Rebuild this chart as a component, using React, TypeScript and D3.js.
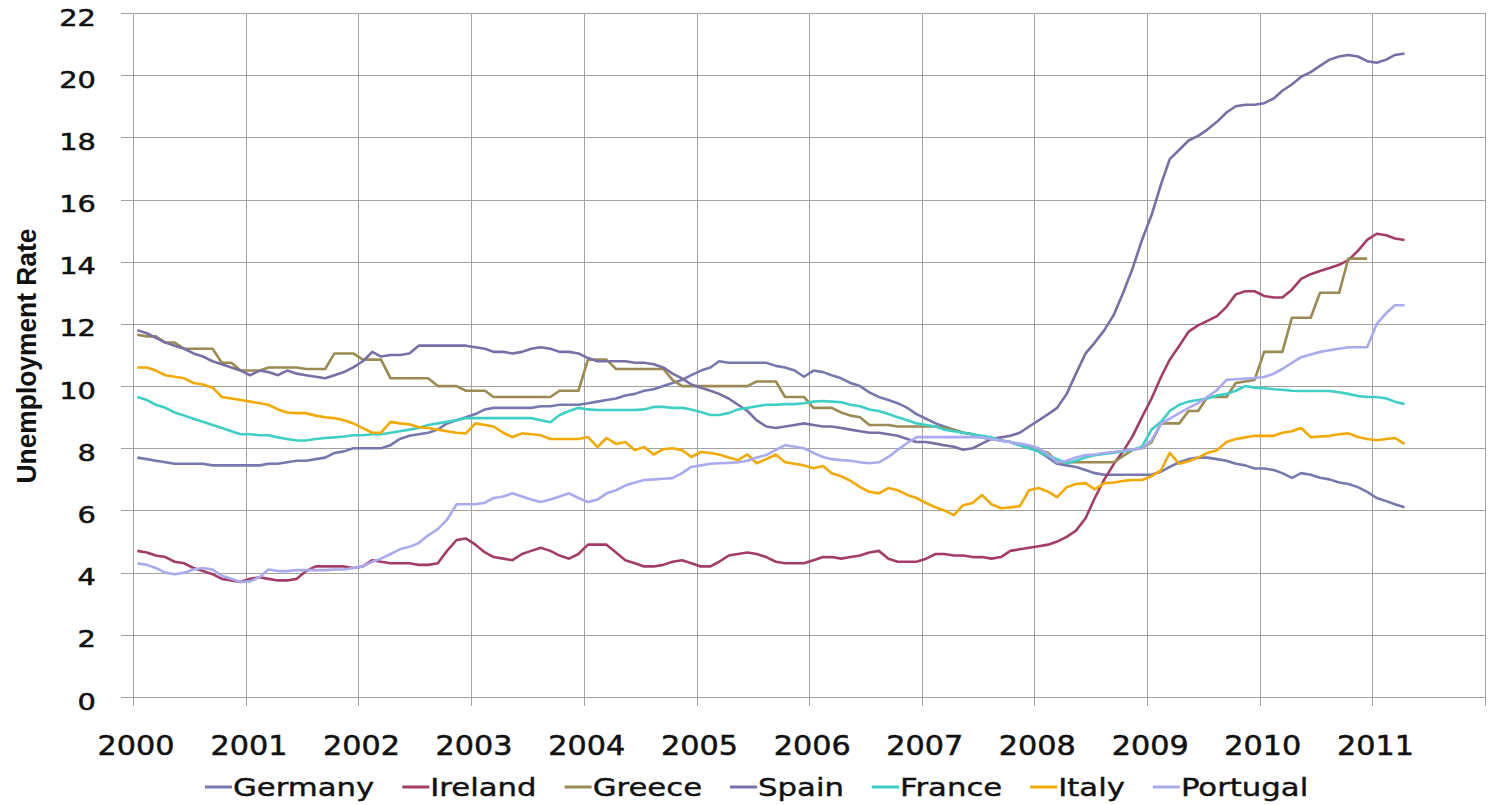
import * as d3 from "d3";
import { useEffect, useRef } from "react";

const W = 1491;
const H = 805;

// monthly unemployment rate, Jan 2000 onwards
const germany = [
  7.7, 7.65, 7.6, 7.55, 7.5, 7.5, 7.5, 7.5, 7.45, 7.45, 7.45, 7.45,
  7.45, 7.45, 7.5, 7.5, 7.55, 7.6, 7.6, 7.65, 7.7, 7.85, 7.9, 8.0,
  8.0, 8.0, 8.0, 8.1, 8.3, 8.4, 8.45, 8.5, 8.6, 8.8, 8.9, 9.0,
  9.1, 9.25, 9.3, 9.3, 9.3, 9.3, 9.3, 9.35, 9.35, 9.4, 9.4, 9.4,
  9.45, 9.5, 9.55, 9.6, 9.7, 9.75, 9.85, 9.9, 10.0, 10.1, 10.2, 10.35,
  10.5, 10.6, 10.8, 10.75, 10.75, 10.75, 10.75, 10.75, 10.65, 10.6, 10.5, 10.3,
  10.5, 10.45, 10.35, 10.25, 10.1, 10.0, 9.8, 9.65, 9.55, 9.45, 9.3, 9.1,
  8.95, 8.8, 8.7, 8.6, 8.5, 8.45, 8.35, 8.3, 8.25, 8.2, 8.1, 8.0,
  7.9, 7.7, 7.5, 7.45, 7.4, 7.3, 7.2, 7.15, 7.15, 7.15, 7.15, 7.15,
  7.15, 7.25, 7.4, 7.55, 7.65, 7.7, 7.7, 7.65, 7.6, 7.5, 7.45, 7.35,
  7.35, 7.3, 7.2, 7.05, 7.2, 7.15, 7.05, 7.0, 6.9, 6.85, 6.75, 6.6,
  6.4, 6.3, 6.2, 6.1,
];
const ireland = [
  4.7, 4.65, 4.55, 4.5, 4.35, 4.3, 4.15, 4.05, 3.95, 3.8, 3.75, 3.7,
  3.8, 3.85, 3.8, 3.75, 3.75, 3.8, 4.05, 4.2, 4.2, 4.2, 4.2, 4.15,
  4.2, 4.4, 4.35, 4.3, 4.3, 4.3, 4.25, 4.25, 4.3, 4.7, 5.05, 5.1,
  4.9, 4.65, 4.5, 4.45, 4.4, 4.6, 4.7, 4.8, 4.7, 4.55, 4.45, 4.6,
  4.9, 4.9, 4.9, 4.65, 4.4, 4.3, 4.2, 4.2, 4.25, 4.35, 4.4, 4.3,
  4.2, 4.2, 4.35, 4.55, 4.6, 4.65, 4.6, 4.5, 4.35, 4.3, 4.3, 4.3,
  4.4, 4.5, 4.5, 4.45, 4.5, 4.55, 4.65, 4.7, 4.45, 4.35, 4.35, 4.35,
  4.45, 4.6, 4.6, 4.55, 4.55, 4.5, 4.5, 4.45, 4.5, 4.7, 4.75, 4.8,
  4.85, 4.9, 5.0, 5.15, 5.35, 5.75, 6.4, 7.0, 7.5, 7.9, 8.4, 9.0,
  9.6, 10.3, 10.85, 11.3, 11.75, 11.95, 12.1, 12.25, 12.55, 12.95, 13.05, 13.05,
  12.9, 12.85, 12.85, 13.1, 13.45, 13.6, 13.7, 13.8, 13.9, 14.05, 14.35, 14.7,
  14.9, 14.85, 14.75, 14.7,
];
const greece = [
  11.65, 11.6, 11.6, 11.4, 11.4, 11.2, 11.2, 11.2, 11.2, 10.75, 10.75, 10.5,
  10.5, 10.5, 10.6, 10.6, 10.6, 10.6, 10.55, 10.55, 10.55, 11.05, 11.05, 11.05,
  10.85, 10.85, 10.85, 10.25, 10.25, 10.25, 10.25, 10.25, 10.0, 10.0, 10.0, 9.85,
  9.85, 9.85, 9.65, 9.65, 9.65, 9.65, 9.65, 9.65, 9.65, 9.85, 9.85, 9.85,
  10.85, 10.85, 10.85, 10.55, 10.55, 10.55, 10.55, 10.55, 10.55, 10.2, 10.0, 10.0,
  10.0, 10.0, 10.0, 10.0, 10.0, 10.0, 10.15, 10.15, 10.15, 9.65, 9.65, 9.65,
  9.3, 9.3, 9.3, 9.15, 9.05, 9.0, 8.75, 8.75, 8.75, 8.7, 8.7, 8.7,
  8.7, 8.7, 8.65, 8.6, 8.5, 8.45, 8.35, 8.3, 8.25, 8.2, 8.1, 8.05,
  7.95, 7.85, 7.55, 7.55, 7.55, 7.55, 7.55, 7.55, 7.55, 7.75, 7.95, 8.0,
  8.2, 8.8, 8.8, 8.8, 9.2, 9.2, 9.65, 9.65, 9.65, 10.1, 10.15, 10.2,
  11.1, 11.1, 11.1, 12.2, 12.2, 12.2, 13.0, 13.0, 13.0, 14.1, 14.1, 14.1,
];
const spain = [
  11.8, 11.7, 11.55, 11.4, 11.3, 11.2, 11.05, 10.95, 10.8, 10.7, 10.6, 10.5,
  10.35, 10.5, 10.45, 10.35, 10.5, 10.4, 10.35, 10.3, 10.25, 10.35, 10.45, 10.6,
  10.8, 11.1, 10.95, 11.0, 11.0, 11.05, 11.3, 11.3, 11.3, 11.3, 11.3, 11.3,
  11.25, 11.2, 11.1, 11.1, 11.05, 11.1, 11.2, 11.25, 11.2, 11.1, 11.1, 11.05,
  10.9, 10.8, 10.8, 10.8, 10.8, 10.75, 10.75, 10.7, 10.6, 10.4, 10.25, 10.05,
  9.95, 9.85, 9.75, 9.6, 9.4, 9.2, 8.9, 8.7, 8.65, 8.7, 8.75, 8.8,
  8.75, 8.7, 8.7, 8.65, 8.6, 8.55, 8.5, 8.5, 8.45, 8.4, 8.3, 8.2,
  8.2, 8.15, 8.1, 8.05, 7.95, 8.0, 8.15, 8.3, 8.35, 8.4, 8.5, 8.7,
  8.9, 9.1, 9.3, 9.75, 10.4, 11.05, 11.4, 11.8, 12.3, 13.0, 13.8, 14.7,
  15.5, 16.5, 17.3, 17.6, 17.9, 18.05, 18.25, 18.5, 18.8, 19.0, 19.05, 19.05,
  19.1, 19.25, 19.5, 19.7, 19.95, 20.1, 20.3, 20.5, 20.6, 20.65, 20.6, 20.45,
  20.4, 20.5, 20.65, 20.7,
];
const france = [
  9.65, 9.55, 9.4, 9.3, 9.15, 9.05, 8.95, 8.85, 8.75, 8.65, 8.55, 8.45,
  8.45, 8.42, 8.42, 8.35, 8.3, 8.25, 8.25, 8.3, 8.33, 8.35, 8.38, 8.42,
  8.42, 8.45, 8.45, 8.5, 8.55, 8.6, 8.65, 8.75, 8.8, 8.85, 8.9, 8.97,
  8.97, 8.97, 8.97, 8.97, 8.97, 8.97, 8.97, 8.9, 8.84, 9.07, 9.2, 9.3,
  9.25, 9.23, 9.23, 9.23, 9.23, 9.23, 9.25, 9.33, 9.33, 9.3, 9.3, 9.25,
  9.17, 9.07, 9.07, 9.13, 9.25, 9.3, 9.35, 9.4, 9.4, 9.42, 9.42, 9.45,
  9.5, 9.52, 9.5, 9.48, 9.4, 9.35, 9.25, 9.2, 9.1, 9.0, 8.9, 8.8,
  8.75, 8.7, 8.6, 8.55, 8.5, 8.45, 8.4, 8.35, 8.25, 8.2, 8.1, 8.0,
  7.9, 7.75, 7.65, 7.52, 7.6, 7.7, 7.78, 7.82, 7.86, 7.9, 7.95, 8.05,
  8.6, 8.85, 9.2, 9.4, 9.5, 9.55, 9.6, 9.7, 9.75, 9.85, 10.0, 9.95,
  9.93, 9.9, 9.88, 9.85, 9.84, 9.84, 9.84, 9.84, 9.8, 9.75, 9.68, 9.65,
  9.65, 9.6, 9.5, 9.42,
];
const italy = [
  10.6, 10.6, 10.5, 10.35, 10.3, 10.25, 10.1, 10.05, 9.95, 9.65, 9.6, 9.55,
  9.5, 9.45, 9.4, 9.25, 9.15, 9.13, 9.13, 9.05, 9.0, 8.97, 8.9, 8.8,
  8.65, 8.5, 8.5, 8.85, 8.8, 8.77, 8.68, 8.65, 8.6, 8.55, 8.5, 8.48,
  8.8, 8.75, 8.7, 8.5, 8.36, 8.48, 8.45, 8.42, 8.3, 8.3, 8.3, 8.3,
  8.36, 8.04, 8.33, 8.14, 8.2, 7.94, 8.04, 7.8, 7.97, 8.0, 7.94, 7.72,
  7.88, 7.85, 7.8, 7.7, 7.62, 7.8, 7.52, 7.65, 7.8, 7.55, 7.5, 7.45,
  7.36, 7.43, 7.2, 7.1, 6.95, 6.75, 6.6, 6.55, 6.72, 6.65, 6.5, 6.4,
  6.24, 6.1, 6.0, 5.85, 6.17, 6.24, 6.5, 6.2, 6.07, 6.1, 6.14, 6.65,
  6.72, 6.6, 6.43, 6.75, 6.85, 6.88, 6.68, 6.88, 6.9, 6.95, 6.98, 6.98,
  7.1, 7.3, 7.85, 7.5, 7.58, 7.7, 7.85, 7.94, 8.2, 8.3, 8.35, 8.4,
  8.4, 8.4, 8.5, 8.55, 8.65, 8.36, 8.38, 8.4, 8.45, 8.48, 8.36, 8.3,
  8.26, 8.3, 8.33, 8.14,
];
const portugal = [
  4.3, 4.25, 4.15, 4.0, 3.95, 4.0, 4.1, 4.15, 4.1, 3.9, 3.8, 3.7,
  3.72, 3.86, 4.1, 4.05, 4.05, 4.08, 4.08, 4.08, 4.08, 4.1, 4.1, 4.15,
  4.2, 4.35, 4.45, 4.6, 4.75, 4.83, 4.95, 5.2, 5.4, 5.7, 6.2, 6.2,
  6.2, 6.25, 6.4, 6.45, 6.55, 6.45, 6.35, 6.27, 6.35, 6.45, 6.55, 6.4,
  6.27, 6.35, 6.55, 6.65, 6.8, 6.9, 6.98, 7.0, 7.02, 7.04, 7.2, 7.4,
  7.45, 7.5, 7.52, 7.53, 7.55, 7.6, 7.7, 7.78, 7.95, 8.1, 8.05, 8.0,
  7.85, 7.72, 7.65, 7.62, 7.6, 7.55, 7.52, 7.55, 7.72, 7.95, 8.17, 8.36,
  8.36, 8.36, 8.36, 8.36, 8.36, 8.36, 8.35, 8.3, 8.25, 8.2, 8.15, 8.1,
  8.0, 7.8, 7.55, 7.6, 7.7, 7.78, 7.8, 7.85, 7.88, 7.92, 7.96, 8.0,
  8.26, 8.8, 8.95, 9.13, 9.3, 9.45, 9.65, 9.87, 10.2, 10.22, 10.24, 10.26,
  10.29, 10.4, 10.55, 10.75, 10.93, 11.02, 11.1, 11.15, 11.2, 11.25, 11.25, 11.25,
  12.0, 12.35, 12.6, 12.6,
];

const countries = ["Germany", "Ireland", "Greece", "Spain", "France", "Italy", "Portugal"];
const seriesValues = [germany, ireland, greece, spain, france, italy, portugal];
const colors = ["#7779ae", "#a33d68", "#9b8a52", "#7a6ea6", "#3ecfc6", "#f2a900", "#aaaaee"];

const years = [2000, 2001, 2002, 2003, 2004, 2005, 2006, 2007, 2008, 2009, 2010, 2011];
const yTicks = [0, 2, 4, 6, 8, 10, 12, 14, 16, 18, 20, 22];

const FONT = "'DejaVu Sans', sans-serif";

export default function App() {
  const ref = useRef<SVGSVGElement | null>(null);

  useEffect(() => {
    const svg = d3.select(ref.current);
    svg.selectAll("*").remove();

    const x = d3
      .scaleTime()
      .domain([new Date(2000, 0, 1), new Date(2012, 0, 1)])
      .range([133, 1485]);
    const y = d3.scaleLinear().domain([0, 22]).range([697, 13]);

    const grid = svg.append("g").attr("stroke", "#a2a2a2").attr("stroke-width", 1);

    // horizontal grid
    grid
      .selectAll("line.h")
      .data(yTicks)
      .enter()
      .append("line")
      .attr("x1", 121)
      .attr("x2", x(new Date(2012, 0, 1)))
      .attr("y1", (d) => Math.round(y(d)) + 0.5)
      .attr("y2", (d) => Math.round(y(d)) + 0.5);

    // vertical grid, with ticks below the axis
    const yearLines = years.concat([2012]);
    grid
      .selectAll("line.v")
      .data(yearLines)
      .enter()
      .append("line")
      .attr("x1", (d) => Math.round(x(new Date(d, 0, 1))) + 0.5)
      .attr("x2", (d) => Math.round(x(new Date(d, 0, 1))) + 0.5)
      .attr("y1", y(22))
      .attr("y2", y(0) + 9);

    // y tick labels
    svg
      .append("g")
      .selectAll("text")
      .data(yTicks)
      .enter()
      .append("text")
      .attr("transform", (d) => `translate(96,${y(d) + 12.5}) scale(1.23,1)`)
      .attr("text-anchor", "end")
      .attr("font-family", FONT)
      .attr("font-size", 23.5)
      .attr("fill", "#111")
      .attr("stroke", "#111")
      .attr("stroke-width", 0.5)
      .text((d) => d);

    // x tick labels
    svg
      .append("g")
      .selectAll("text")
      .data(years)
      .enter()
      .append("text")
      .attr("transform", (d) => `translate(${x(new Date(d, 0, 1)) + 3},755) scale(1.12,1)`)
      .attr("text-anchor", "middle")
      .attr("font-family", FONT)
      .attr("font-size", 27)
      .attr("fill", "#111")
      .attr("stroke", "#111")
      .attr("stroke-width", 0.5)
      .text((d) => d);

    // y axis title
    svg
      .append("text")
      .attr("transform", "translate(36,356) rotate(-90)")
      .attr("text-anchor", "middle")
      .attr("font-family", "'Liberation Sans Narrow', 'Liberation Sans', sans-serif")
      .attr("font-weight", "bold")
      .attr("font-size", 27)
      .attr("textLength", 255)
      .attr("lengthAdjust", "spacingAndGlyphs")
      .attr("fill", "#111")
      .text("Unemployment Rate");

    // series
    const line = d3
      .line<number>()
      .x((_, i) => x(new Date(2000, i, 15)))
      .y((d) => y(d))
      .curve(d3.curveLinear);

    svg
      .append("g")
      .selectAll("path")
      .data(seriesValues)
      .enter()
      .append("path")
      .attr("d", (d) => line(d))
      .attr("fill", "none")
      .attr("stroke", (_, i) => colors[i])
      .attr("stroke-width", 2.6)
      .attr("stroke-linejoin", "round");

    // legend
    const legend = svg.append("g");
    let lx = 205;
    countries.forEach((name, i) => {
      legend
        .append("line")
        .attr("x1", lx)
        .attr("x2", lx + 27)
        .attr("y1", 787)
        .attr("y2", 787)
        .attr("stroke", colors[i])
        .attr("stroke-width", 3);
      const t = legend
        .append("text")
        .attr("transform", `translate(${lx + 28},796) scale(1.23,1)`)
        .attr("font-family", FONT)
        .attr("font-size", 25)
        .attr("fill", "#111")
        .attr("stroke", "#111")
        .attr("stroke-width", 0.4)
        .text(name);
      const w = (t.node() as SVGTextElement).getComputedTextLength() * 1.23;
      lx += 28 + w + 28;
    });
  }, []);

  return (
    <svg
      ref={ref}
      width={W}
      height={H}
      style={{ position: "absolute", left: 0, top: 0, background: "#fff" }}
    ></svg>
  );
}
